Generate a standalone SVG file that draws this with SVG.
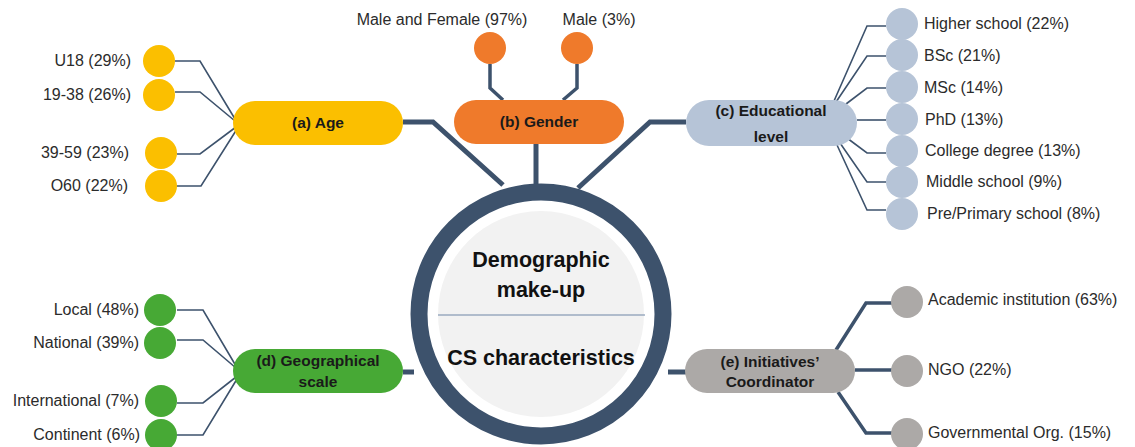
<svg xmlns="http://www.w3.org/2000/svg" width="1135" height="447" viewBox="0 0 1135 447">
  <style>
    .lbl { font-family: "Liberation Sans", Arial, sans-serif; font-size: 16px; fill: #2b2b2b; }
    .hd { font-family: "Liberation Sans", Arial, sans-serif; font-size: 15.5px; font-weight: bold; fill: #1a1a1a; text-anchor: middle; }
    .ctr { font-family: "Liberation Sans", Arial, sans-serif; font-size: 21.5px; font-weight: bold; fill: #111; text-anchor: middle; }
    .thick { fill: none; stroke: #3d526c; stroke-width: 5; stroke-linejoin: miter; }
    .mid { fill: none; stroke: #3d526c; stroke-width: 3.5; }
    .thin { fill: none; stroke: #3d526c; stroke-width: 1.6; }
    .age { fill: #fbbf00; }
    .gen { fill: #ef7a2b; }
    .edu { fill: #b6c4d7; }
    .geo { fill: #47a935; }
    .coo { fill: #aca9a7; }
  </style>

  <!-- connectors -->
  <g id="connectors">
    <!-- hub spokes -->
    <polyline class="thick" points="403,122 433,122 503,185"/>
    <polyline class="thick" points="536,144 536,185"/>
    <polyline class="thick" points="686,122 650,122 578,188"/>
    <polyline class="thick" points="403,372 414,372"/>
    <polyline class="thick" points="668,372 686,372"/>
    <!-- age -->
    <polyline class="thin" points="175,61 200,61 235,119"/>
    <polyline class="thin" points="175,92 200,92 235,121"/>
    <polyline class="thin" points="177,154 200,154 236,127"/>
    <polyline class="thin" points="177,186 201,186 237,129"/>
    <!-- gender -->
    <polyline class="mid" points="490,64 490,88 503,100"/>
    <polyline class="mid" points="577,64 577,88 563,100"/>
    <!-- education -->
    <polyline class="thin" points="886,26 867,26 834,101"/>
    <polyline class="thin" points="886,56 867,56 836,102"/>
    <polyline class="thin" points="886,88 867,88 846,104"/>
    <polyline class="thin" points="857,120 886,120"/>
    <polyline class="thin" points="886,153 867,153 847,138"/>
    <polyline class="thin" points="886,182 867,182 840,143"/>
    <polyline class="thin" points="886,210 867,210 837,145"/>
    <!-- geography -->
    <polyline class="thin" points="177,310 203,310 236,366"/>
    <polyline class="thin" points="177,340 203,340 236,368"/>
    <polyline class="thin" points="177,403 203,403 236,377"/>
    <polyline class="thin" points="177,435 203,435 237,379"/>
    <!-- coordinator -->
    <polyline class="mid" points="836,350 866,303 892,303"/>
    <polyline class="mid" points="855,370 892,370"/>
    <polyline class="mid" points="838,392 866,433 892,433"/>
  </g>

  <!-- central hub -->
  <g id="hub">
    <circle cx="541" cy="314" r="122" fill="#ffffff" stroke="#3d526c" stroke-width="17"/>
    <circle cx="541" cy="314" r="103" fill="#f2f2f2"/>
    <line x1="438" y1="315" x2="645" y2="315" stroke="#6f86a5" stroke-width="1.2"/>
    <text class="ctr" x="541" y="267">Demographic</text>
    <text class="ctr" x="541" y="297">make-up</text>
    <text class="ctr" x="541" y="365">CS characteristics</text>
  </g>

  <!-- (a) age -->
  <g id="age">
    <rect class="age" x="233" y="101" width="170" height="44" rx="22"/>
    <text class="hd" x="318" y="128">(a) Age</text>
    <circle class="age" cx="159" cy="61" r="16"/>
    <circle class="age" cx="159" cy="95" r="16"/>
    <circle class="age" cx="161" cy="153" r="16"/>
    <circle class="age" cx="161" cy="186" r="16"/>
    <text class="lbl" x="131" y="66" text-anchor="end">U18 (29%)</text>
    <text class="lbl" x="131" y="100" text-anchor="end">19-38 (26%)</text>
    <text class="lbl" x="129" y="158" text-anchor="end">39-59 (23%)</text>
    <text class="lbl" x="128" y="191" text-anchor="end">O60 (22%)</text>
  </g>

  <!-- (b) gender -->
  <g id="gender">
    <rect class="gen" x="454" y="100" width="170" height="44" rx="22"/>
    <text class="hd" x="539" y="127">(b) Gender</text>
    <circle class="gen" cx="490" cy="48" r="16"/>
    <circle class="gen" cx="577" cy="48" r="16"/>
    <text class="lbl" x="442" y="25" text-anchor="middle">Male and Female (97%)</text>
    <text class="lbl" x="599" y="25" text-anchor="middle">Male (3%)</text>
  </g>

  <!-- (c) education -->
  <g id="education">
    <rect class="edu" x="686" y="100" width="171" height="46" rx="23"/>
    <text class="hd" x="771" y="116">(c) Educational</text>
    <text class="hd" x="771" y="142">level</text>
    <circle class="edu" cx="902" cy="24" r="16"/>
    <circle class="edu" cx="902" cy="55" r="16"/>
    <circle class="edu" cx="902" cy="87" r="16"/>
    <circle class="edu" cx="902" cy="119" r="16"/>
    <circle class="edu" cx="902" cy="151" r="16"/>
    <circle class="edu" cx="902" cy="182" r="16"/>
    <circle class="edu" cx="902" cy="214" r="16"/>
    <text class="lbl" x="924" y="29">Higher school (22%)</text>
    <text class="lbl" x="924" y="61">BSc (21%)</text>
    <text class="lbl" x="924" y="93">MSc (14%)</text>
    <text class="lbl" x="925" y="125">PhD (13%)</text>
    <text class="lbl" x="925" y="156">College degree (13%)</text>
    <text class="lbl" x="926" y="187">Middle school (9%)</text>
    <text class="lbl" x="927" y="219">Pre/Primary school (8%)</text>
  </g>

  <!-- (d) geography -->
  <g id="geography">
    <rect class="geo" x="233" y="349" width="170" height="44" rx="22"/>
    <text class="hd" x="318" y="366">(d) Geographical</text>
    <text class="hd" x="318" y="387">scale</text>
    <circle class="geo" cx="160" cy="310" r="16"/>
    <circle class="geo" cx="160" cy="343" r="16"/>
    <circle class="geo" cx="161" cy="401" r="16"/>
    <circle class="geo" cx="161" cy="435" r="16"/>
    <text class="lbl" x="139" y="315" text-anchor="end">Local (48%)</text>
    <text class="lbl" x="139" y="348" text-anchor="end">National (39%)</text>
    <text class="lbl" x="139" y="406" text-anchor="end">International (7%)</text>
    <text class="lbl" x="140" y="440" text-anchor="end">Continent (6%)</text>
  </g>

  <!-- (e) coordinator -->
  <g id="coordinator">
    <rect class="coo" x="685" y="349" width="170" height="44" rx="22"/>
    <text class="hd" x="770" y="367">(e) Initiatives’</text>
    <text class="hd" x="770" y="387">Coordinator</text>
    <circle class="coo" cx="907" cy="302" r="16"/>
    <circle class="coo" cx="907" cy="371" r="16"/>
    <circle class="coo" cx="907" cy="434" r="16"/>
    <text class="lbl" x="928" y="305">Academic institution (63%)</text>
    <text class="lbl" x="928" y="375">NGO (22%)</text>
    <text class="lbl" x="928" y="438">Governmental Org. (15%)</text>
  </g>
</svg>
